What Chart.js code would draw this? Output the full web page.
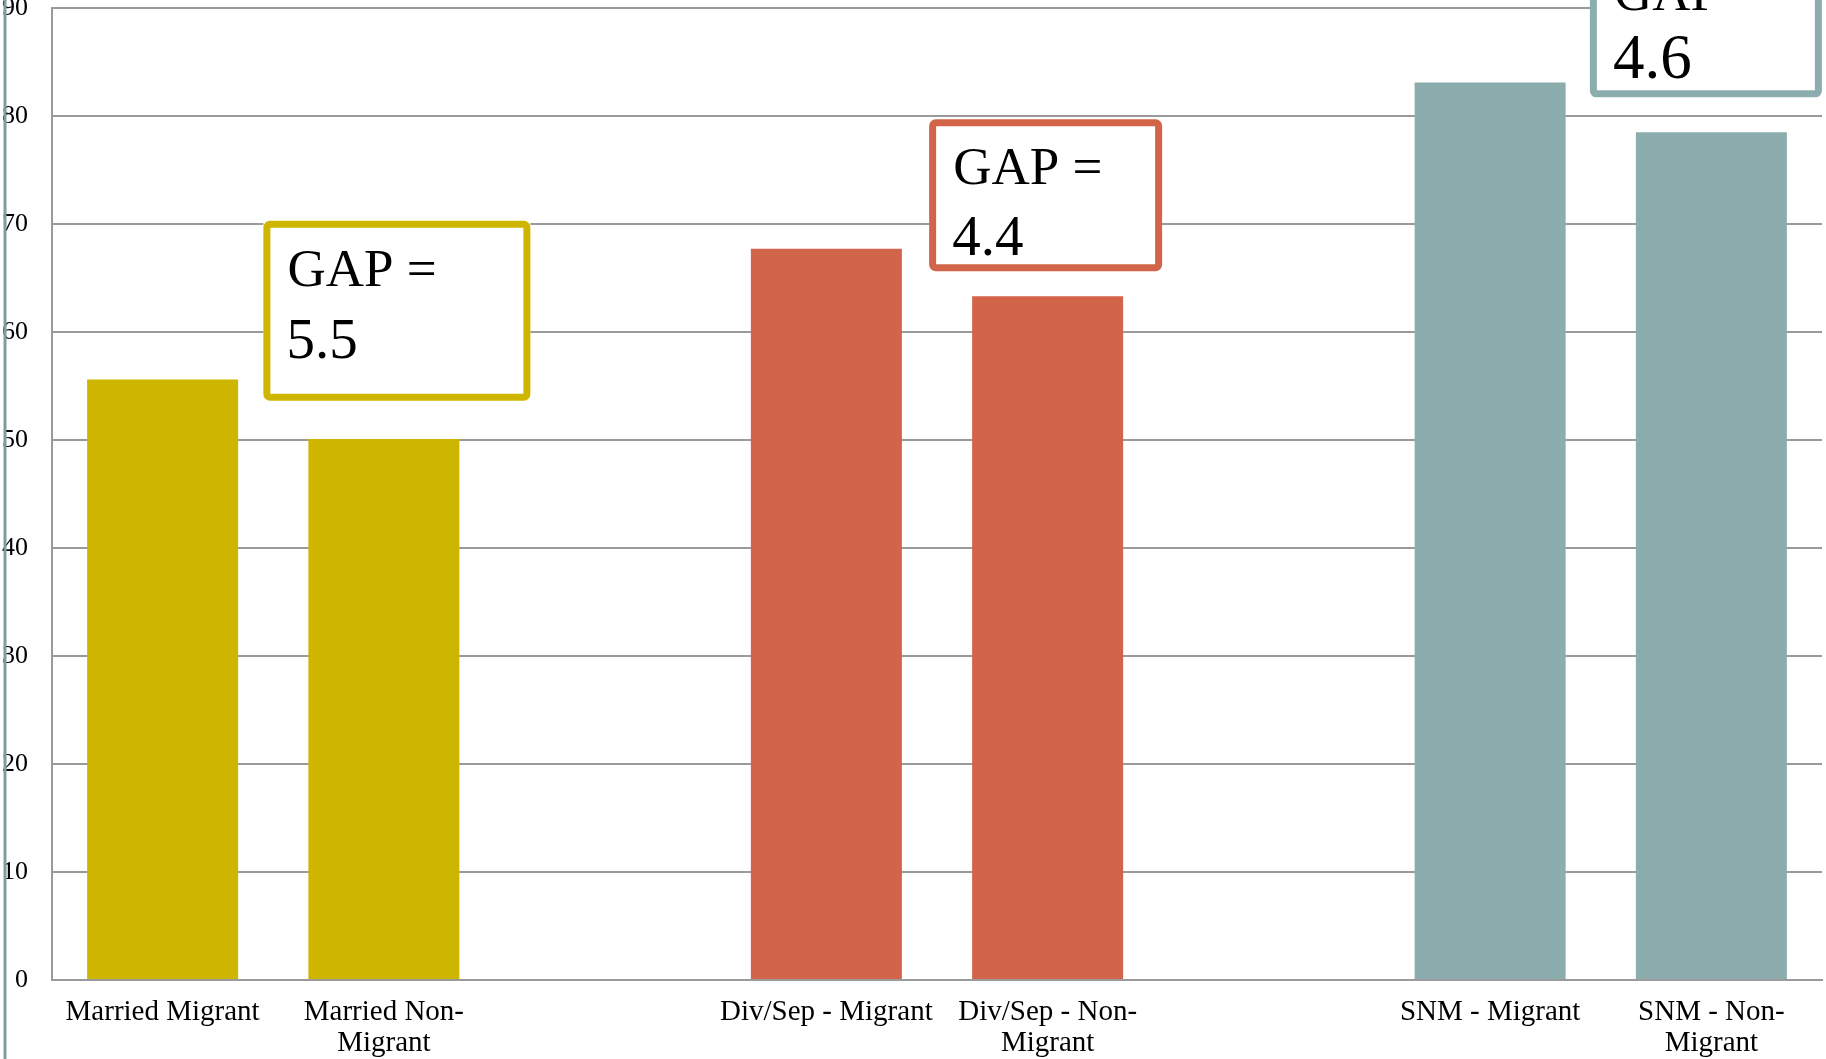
<!DOCTYPE html>
<html>
<head>
<meta charset="utf-8">
<script src="https://cdn.jsdelivr.net/npm/chart.js@4.4.1/dist/chart.umd.min.js"></script>
<style>
  html, body { margin: 0; padding: 0; background: #ffffff; overflow: hidden; }
  #wrap { position: relative; width: 1826px; height: 1059px; }
</style>
</head>
<body>
<div id="wrap"><canvas id="chart"></canvas></div>
<script>
// Share (%) by marital status and migrant status; empty slots separate the groups
const categories = [
  'Married Migrant', ['Married Non-', 'Migrant'], '',
  'Div/Sep - Migrant', ['Div/Sep - Non-', 'Migrant'], '',
  'SNM - Migrant', ['SNM - Non-', 'Migrant']
];
const values = [55.6, 50.1, null, 67.7, 63.3, null, 83.1, 78.5];
const groupColors = ['#CEB600', '#D2644A', '#8CADAD'];
const barColors = [groupColors[0], groupColors[0], null, groupColors[1], groupColors[1], null, groupColors[2], groupColors[2]];

// Migrant / non-migrant pairs whose difference is written in a boxed label
const gapPairs = [[0, 1], [3, 4], [6, 7]];

const SERIF = '"Liberation Serif", "Times New Roman", serif';

// Boxed "GAP =" labels, placed next to each pair through the chart scales
const gapBoxPlugin = {
  id: 'gapBoxes',
  afterDraw(chart, args, opts) {
    const { ctx, scales: { x, y } } = chart;
    ctx.save();
    opts.boxes.forEach((b, i) => {
      const [a, n] = gapPairs[i];
      const gap = (values[a] - values[n]).toFixed(1);
      const left = x.getPixelForValue(b.anchor) - b.w / 2 + b.dx;
      const top = y.getPixelForValue(b.top);
      const lw = opts.lineWidth;
      ctx.fillStyle = '#ffffff';
      ctx.fillRect(left, top, b.w, b.h);
      ctx.strokeStyle = groupColors[i];
      ctx.lineWidth = lw;
      ctx.lineJoin = 'round';
      ctx.beginPath();
      ctx.roundRect(left + lw / 2, top + lw / 2, b.w - lw, b.h - lw, 3);
      ctx.stroke();
      ctx.fillStyle = '#000000';
      ctx.textAlign = 'left';
      ctx.textBaseline = 'alphabetic';
      ctx.font = opts.font;
      ctx.fillText('GAP =', left + 24, top + 65);
      ctx.font = b.numSize + 'px ' + SERIF;
      ctx.fillText(gap, left + 23, top + b.numBase);
    });
    ctx.restore();
  }
};

// Thin vertical rule along the left edge of the slide
const edgeRulePlugin = {
  id: 'edgeRule',
  afterDraw(chart) {
    const ctx = chart.ctx;
    ctx.save();
    ctx.strokeStyle = '#7F9D9D';
    ctx.lineWidth = 3;
    ctx.beginPath();
    ctx.moveTo(5, 0);
    ctx.lineTo(5, chart.height);
    ctx.stroke();
    ctx.restore();
  }
};

new Chart(document.getElementById('chart'), {
  type: 'bar',
  data: {
    labels: categories,
    datasets: [{
      data: values,
      backgroundColor: barColors,
      borderWidth: 0,
      categoryPercentage: 1,
      barPercentage: 0.6825
    }]
  },
  options: {
    responsive: true,
    maintainAspectRatio: false,
    animation: false,
    devicePixelRatio: 1,
    layout: { padding: { top: 8, right: 4, left: 0, bottom: 0 } },
    plugins: {
      legend: { display: false },
      tooltip: { enabled: false },
      gapBoxes: {
        lineWidth: 7,
        font: '53px ' + SERIF,
        boxes: [
          { anchor: 1, dx: 13, top: 70.3, w: 267, h: 180, numSize: 57, numBase: 137 },
          { anchor: 4, dx: -2, top: 79.7, w: 233, h: 152, numSize: 57, numBase: 136 },
          { anchor: 7, dx: -5.5, top: 95.8, w: 232, h: 152, numSize: 63, numBase: 133 }
        ]
      }
    },
    scales: {
      x: {
        offset: true,
        grid: { display: false, drawTicks: false },
        border: { display: true, color: '#9A9A9A', width: 2 },
        ticks: {
          color: '#000000',
          padding: 17,
          maxRotation: 0,
          autoSkip: false,
          font: { family: SERIF, size: 29, lineHeight: 1.06 }
        },
        afterFit(scale) {
          scale.height = 79;
          scale.paddingLeft = 0;
          scale.paddingRight = 0;
        }
      },
      y: {
        min: 0,
        max: 90,
        grid: { color: '#9A9A9A', lineWidth: 2, drawTicks: false },
        border: { display: true, color: '#9A9A9A', width: 2 },
        ticks: {
          stepSize: 10,
          color: '#000000',
          padding: 24,
          font: { family: SERIF, size: 26 }
        },
        afterFit(scale) {
          scale.width = 52;
          scale.paddingTop = 0;
          scale.paddingBottom = 0;
        }
      }
    }
  },
  plugins: [gapBoxPlugin, edgeRulePlugin]
});
</script>
</body>
</html>
